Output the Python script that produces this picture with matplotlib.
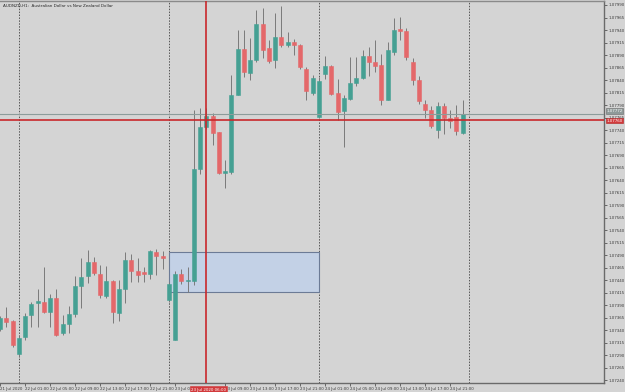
import matplotlib
matplotlib.use("Agg")
import matplotlib.pyplot as plt
import matplotlib.transforms as mtransforms
from matplotlib.patches import Rectangle
import numpy as np

# AUDNZD H1 candles, 21 Jul 2020 21:00 .. 24 Jul 2020 23:00
opens = [1.07342, 1.07364, 1.07358, 1.07292, 1.07326, 1.07370, 1.07395, 1.07396, 1.07377, 1.07404,
         1.07335, 1.07352, 1.07372, 1.07428, 1.07449, 1.07476, 1.07452, 1.07409, 1.07438, 1.07375,
         1.07422, 1.07480, 1.07459, 1.07455, 1.07453, 1.07496, 1.07488, 1.07401, 1.07321, 1.07452,
         1.07438, 1.07438, 1.07663, 1.07747, 1.07768, 1.07735, 1.07655, 1.07657, 1.07811, 1.07903,
         1.07855, 1.07880, 1.07952, 1.07903, 1.07880, 1.07925, 1.07910, 1.07915, 1.07909, 1.07862,
         1.07815, 1.07767, 1.07852, 1.07868, 1.07815, 1.07778, 1.07803, 1.07835, 1.07845, 1.07887,
         1.07876, 1.07870, 1.07801, 1.07897, 1.07943, 1.07938, 1.07876, 1.07840, 1.07792, 1.07780,
         1.07740, 1.07788, 1.07764, 1.07766, 1.07734]
highs = [1.07368, 1.07386, 1.07360, 1.07328, 1.07374, 1.07396, 1.07422, 1.07466, 1.07412, 1.07422,
         1.07370, 1.07388, 1.07448, 1.07484, 1.07500, 1.07486, 1.07470, 1.07468, 1.07440, 1.07440,
         1.07496, 1.07492, 1.07484, 1.07466, 1.07500, 1.07502, 1.07499, 1.07436, 1.07459, 1.07462,
         1.07467, 1.07780, 1.07783, 1.07784, 1.07774, 1.07737, 1.07680, 1.07850, 1.07940, 1.07940,
         1.07924, 1.07980, 1.07985, 1.07921, 1.07975, 1.07987, 1.07937, 1.07923, 1.07913, 1.07867,
         1.07850, 1.07846, 1.07888, 1.07870, 1.07843, 1.07810, 1.07885, 1.07887, 1.07901, 1.07907,
         1.07921, 1.07893, 1.07917, 1.07965, 1.07966, 1.07944, 1.07884, 1.07848, 1.07800, 1.07788,
         1.07796, 1.07794, 1.07780, 1.07790, 1.07800]
lows = [1.07338, 1.07346, 1.07306, 1.07286, 1.07320, 1.07346, 1.07346, 1.07374, 1.07346, 1.07328,
        1.07330, 1.07334, 1.07366, 1.07384, 1.07434, 1.07450, 1.07404, 1.07404, 1.07355, 1.07359,
        1.07394, 1.07437, 1.07437, 1.07437, 1.07442, 1.07450, 1.07462, 1.07396, 1.07320, 1.07432,
        1.07417, 1.07430, 1.07652, 1.07742, 1.07710, 1.07653, 1.07624, 1.07652, 1.07810, 1.07847,
        1.07840, 1.07877, 1.07884, 1.07874, 1.07864, 1.07907, 1.07907, 1.07890, 1.07863, 1.07800,
        1.07810, 1.07764, 1.07841, 1.07810, 1.07760, 1.07707, 1.07800, 1.07828, 1.07841, 1.07848,
        1.07857, 1.07790, 1.07800, 1.07890, 1.07920, 1.07880, 1.07830, 1.07792, 1.07764, 1.07744,
        1.07724, 1.07732, 1.07744, 1.07730, 1.07732]
closes = [1.07364, 1.07356, 1.07310, 1.07324, 1.07368, 1.07392, 1.07397, 1.07376, 1.07404, 1.07330,
          1.07352, 1.07372, 1.07428, 1.07446, 1.07476, 1.07454, 1.07410, 1.07439, 1.07377, 1.07422,
          1.07480, 1.07459, 1.07451, 1.07453, 1.07499, 1.07489, 1.07485, 1.07431, 1.07452, 1.07438,
          1.07439, 1.07663, 1.07747, 1.07768, 1.07735, 1.07655, 1.07657, 1.07811, 1.07903, 1.07857,
          1.07880, 1.07952, 1.07900, 1.07878, 1.07925, 1.07910, 1.07915, 1.07909, 1.07867, 1.07817,
          1.07843, 1.07839, 1.07868, 1.07813, 1.07777, 1.07803, 1.07835, 1.07843, 1.07887, 1.07875,
          1.07869, 1.07801, 1.07900, 1.07939, 1.07938, 1.07886, 1.07840, 1.07798, 1.07780, 1.07748,
          1.07788, 1.07764, 1.07758, 1.07738, 1.07772]

# the 05:00 label under the crosshair time box is hidden in the screenshot
time_ticks = [0, 4, 8, 12, 16, 20, 24, 28, 36, 40, 44, 48, 52, 56, 60, 64, 68, 72]
time_labels = ["21 Jul 2020", "22 Jul 01:00", "22 Jul 05:00", "22 Jul 09:00", "22 Jul 13:00",
               "22 Jul 17:00", "22 Jul 21:00", "23 Jul 01", "23 Jul 09:00",
               "23 Jul 13:00", "23 Jul 17:00", "23 Jul 21:00", "24 Jul 01:00", "24 Jul 05:00",
               "24 Jul 09:00", "24 Jul 13:00", "24 Jul 17:00", "24 Jul 21:00"]
day_starts = [3, 27, 51, 75]

# zone box (candle index range, price range)
zone_x = [27, 51]
zone_y = [1.07416, 1.07496]

bid_price = 1.07772
cross_bar = 33
cross_price = 1.07760
cross_time = "23 Jul 2020 06:00"

bg = "#d4d4d4"
up_col = "#45a093"
down_col = "#e4686a"
wick_col = "#7a7a7a"

fig = plt.figure(figsize=(6.25, 3.92), dpi=100, facecolor=bg)
ax = fig.add_axes([0, 9 / 392, 604 / 625, 382 / 392])
ax.set_facecolor(bg)

n = len(opens)
x = np.arange(n)

# period separators
for d in day_starts:
    ax.axvline(d, color="#555555", lw=0.7, ls=(0, (1.5, 1.5)), zorder=1)

# zone rectangle
ax.add_patch(Rectangle((zone_x[0], zone_y[0]), zone_x[1] - zone_x[0], zone_y[1] - zone_y[0],
                       facecolor="#c3d1e6", edgecolor="#6c7b96", lw=0.8, zorder=1.5))

# candles
cols = [up_col if c >= o else down_col for o, c in zip(opens, closes)]
ax.vlines(x, lows, highs, color=wick_col, lw=0.7, zorder=2)
bottoms = np.minimum(opens, closes)
heights = np.maximum(np.abs(np.array(closes) - np.array(opens)), 0.000025)
ax.bar(x, heights, bottom=bottoms, width=0.64, color=cols, edgecolor=cols, lw=0.4, zorder=3)

# bid line and crosshair
ax.axhline(bid_price, color="#8c9c9a", lw=0.8, zorder=4)
ax.axhline(cross_price, color="#c8282b", lw=1.2, zorder=5)
ax.axvline(cross_bar, color="#c8282b", lw=1.2, zorder=5)

ax.set_xlim(0, 604 / 6.25)
ax.set_ylim(1.07234, 1.07998)

# axes / ticks
price_ticks = np.arange(1.07990, 1.07230, -0.00025)
ax.yaxis.tick_right()
ax.set_yticks(price_ticks)
ax.set_yticklabels([f"{p:.5f}" for p in price_ticks])
ax.set_xticks(time_ticks)
ax.set_xticklabels(time_labels, ha="left")
ax.tick_params(axis="both", labelsize=2.9, colors="#3a3a3a", length=2, width=0.5, pad=1.0)

ax.spines["left"].set_visible(False)
for s in ["right", "bottom"]:
    ax.spines[s].set_color("#6a6a6a")
    ax.spines[s].set_linewidth(1.0)
ax.spines["top"].set_color("#8a8a8a")
ax.spines["top"].set_linewidth(1.0)

# price labels on axis
trans = mtransforms.blended_transform_factory(ax.transAxes, ax.transData)
ax.text(1.004, bid_price + 0.00002, f"{bid_price:.5f}", transform=trans, fontsize=2.9, color="white",
        va="bottom", ha="left", zorder=6, clip_on=False,
        bbox=dict(boxstyle="square,pad=0.2", fc="#8e9a99", ec="#6a6a6a", lw=0.4))
ax.text(1.004, cross_price - 0.00001, f"{cross_price:.5f}", transform=trans, fontsize=2.9, color="white",
        va="center", ha="left", zorder=6, clip_on=False,
        bbox=dict(boxstyle="square,pad=0.2", fc="#d23a3c", ec="#b02020", lw=0.4))

# crosshair time label
trans_x = mtransforms.blended_transform_factory(ax.transData, ax.transAxes)
ax.text(cross_bar + 0.4, -0.012, cross_time, transform=trans_x, fontsize=2.9, color="white",
        va="top", ha="center", zorder=6, clip_on=False,
        bbox=dict(boxstyle="square,pad=0.3", fc="#d23a3c", ec="#d23a3c", lw=0.4))

ax.text(0.005, 0.992, "AUDNZD,H1:  Australian Dollar vs New Zealand Dollar", transform=ax.transAxes,
        fontsize=3.0, color="#2a2a2a", va="top", ha="left")

fig.savefig("out.png", dpi=100, facecolor=bg)
